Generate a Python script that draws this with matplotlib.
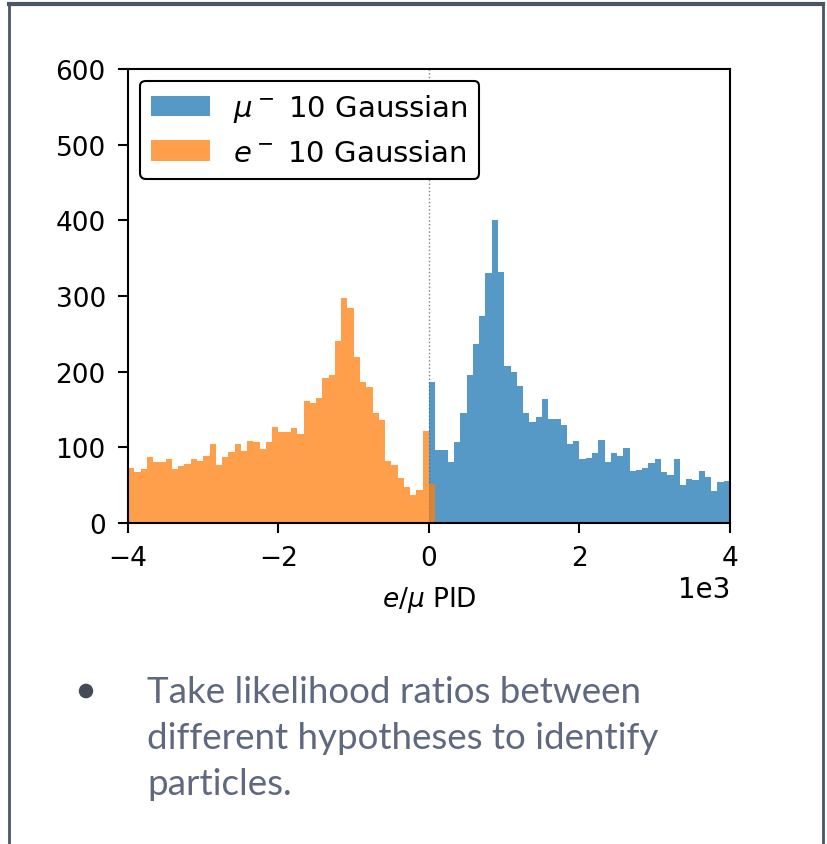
import numpy as np
import matplotlib
matplotlib.use('Agg')
import matplotlib.pyplot as plt
from matplotlib.lines import Line2D
from matplotlib.patches import Circle

# bin edges in raw PID units (axis shows them with a 1e3 offset)
edges = np.linspace(-4000, 4000, 97)
bw = edges[1] - edges[0]

# e- counts, bins from -4000 up to the first bin right of 0
e_counts = [73, 68, 71, 87, 80, 80, 84, 71, 75, 78,
            85, 82, 88, 104, 77, 87, 94, 105, 95, 108,
            107, 98, 107, 127, 120, 120, 125, 118, 161, 159,
            165, 192, 195, 241, 297, 284, 219, 186, 180, 145,
            136, 82, 77, 60, 47, 37, 44, 121, 51]

# mu- counts, bins from 0 to 4000
mu_counts = [186, 96, 96, 81, 107, 145, 196, 237, 274, 330,
             401, 332, 207, 200, 181, 145, 134, 140, 164, 138,
             137, 130, 104, 108, 84, 86, 93, 110, 81, 93,
             89, 99, 69, 70, 73, 79, 84, 68, 63, 85,
             50, 58, 57, 69, 61, 42, 54, 55]

labels = [r'$\mu^-$ 10 Gaussian', r'$e^-$ 10 Gaussian']
bullet = "Take likelihood ratios between\ndifferent hypotheses to identify\nparticles."

centers = edges[:-1] + bw / 2
e_x = centers[:len(e_counts)]
mu_x = centers[48:48 + len(mu_counts)]

fig = plt.figure(figsize=(8.28, 8.45), dpi=100)
ax = fig.add_axes([0.1546, 0.3799, 0.727, 0.5373])

ax.axvline(0, color='grey', linestyle=':', linewidth=1, zorder=0)
ax.hist(mu_x, bins=edges, weights=mu_counts, alpha=0.75, color='tab:blue', label=labels[0])
ax.hist(e_x, bins=edges, weights=e_counts, alpha=0.75, color='tab:orange', label=labels[1])

ax.set_xlim(-4000, 4000)
ax.set_ylim(0, 600)
ax.set_yticks(range(0, 601, 100))
ax.set_xticks([-4000, -2000, 0, 2000, 4000])
ax.ticklabel_format(axis='x', style='sci', scilimits=(0, 0))
ax.xaxis.get_offset_text().set_fontsize(20)
ax.tick_params(labelsize=19, width=1.5, length=7, pad=9)
for s in ax.spines.values():
    s.set_linewidth(1.5)
ax.set_xlabel(r'$e/\mu$ PID', fontsize=19, labelpad=9)

leg = ax.legend(loc='upper left', fontsize=21, framealpha=1, borderaxespad=0.4)
leg.get_frame().set_edgecolor('black')
leg.get_frame().set_linewidth(1.5)

# slide frame
frame_col = '#4a5567'
fig.add_artist(Line2D([0.011, 0.994], [0.994, 0.994], color=frame_col, lw=3, transform=fig.transFigure))
fig.add_artist(Line2D([0.011, 0.011], [0.0, 0.994], color=frame_col, lw=2, transform=fig.transFigure))
fig.add_artist(Line2D([0.994, 0.994], [0.0, 0.994], color=frame_col, lw=2, transform=fig.transFigure))

# bullet text below the chart
fig.add_artist(Circle((86 / 828, 1 - 692 / 845), 6.5 / 828, color='#444a56', transform=fig.transFigure))
fig.text(147 / 828, 1 - 676 / 845, bullet, fontsize=26.5, color='#5e6880', family='Lato',
         va='top', ha='left', linespacing=1.48)

fig.savefig('out.png', dpi=100)
